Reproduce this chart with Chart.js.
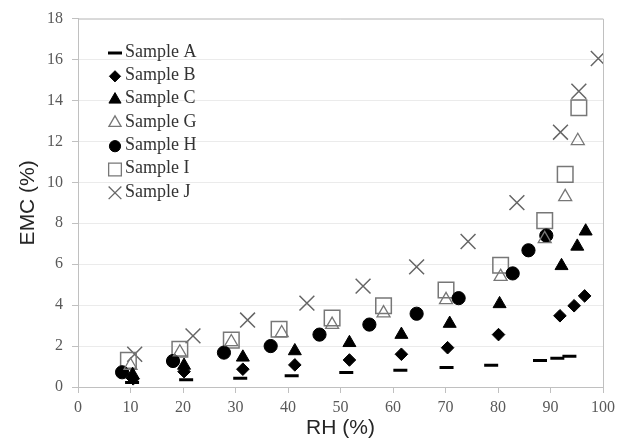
<!DOCTYPE html>
<html><head><meta charset="utf-8">
<script src="https://cdn.jsdelivr.net/npm/chart.js@4/dist/chart.umd.min.js"></script>
<style>html,body{margin:0;padding:0;background:#fff}#wrap{width:620px;height:442px;position:relative}</style>
</head><body><div id="wrap"><canvas id="c" width="620" height="442"></canvas></div>
<script>
// ---- data ----
const seriesNames = ['Sample A','Sample B','Sample C','Sample G','Sample H','Sample I','Sample J'];

const rhA  = [10.3, 20.6, 30.9, 40.7, 51.1, 61.4, 70.2, 78.7, 88.0, 91.3, 93.6];
const emcA = [0.22, 0.35, 0.43, 0.55, 0.71, 0.82, 0.95, 1.06, 1.30, 1.40, 1.50];

const rhB  = [10.5, 20.2, 31.4, 41.3, 51.7, 61.6, 70.4, 80.1, 91.8, 94.5, 96.5];
const emcB = [0.40, 0.75, 0.87, 1.08, 1.32, 1.60, 1.92, 2.56, 3.48, 3.97, 4.45];

const rhC  = [10.4, 20.2, 31.4, 41.3, 51.7, 61.6, 70.8, 80.3, 92.1, 95.1, 96.7];
const emcC = [0.60, 1.05, 1.45, 1.76, 2.16, 2.56, 3.10, 4.06, 5.92, 6.87, 7.61];

const rhG  = [10.0, 19.4, 29.2, 38.8, 48.4, 58.2, 70.1, 80.5, 88.9, 92.8, 95.2];
const emcG = [1.05, 1.70, 2.20, 2.64, 3.05, 3.61, 4.26, 5.39, 7.24, 9.29, 12.03];

const rhH  = [8.4, 18.1, 27.8, 36.7, 46.0, 55.5, 64.5, 72.5, 82.8, 85.8, 89.2];
const emcH = [0.72, 1.27, 1.68, 2.00, 2.56, 3.05, 3.58, 4.34, 5.55, 6.68, 7.40];

const rhI  = [9.6, 19.4, 29.2, 38.3, 48.4, 58.2, 70.1, 80.5, 88.9, 92.8, 95.4];
const emcI = [1.30, 1.84, 2.29, 2.82, 3.37, 3.97, 4.74, 5.95, 8.13, 10.39, 13.64];

const rhJ  = [10.8, 21.9, 32.3, 43.6, 54.3, 64.5, 74.3, 83.6, 91.9, 95.4, 99.1];
const emcJ = [1.60, 2.50, 3.27, 4.10, 4.93, 5.87, 7.11, 9.01, 12.45, 14.45, 16.05];

const xTicks = [0,10,20,30,40,50,60,70,80,90,100];
const yTicks = [0,2,4,6,8,10,12,14,16,18];
const xTitle = 'RH (%)';
const yTitle = 'EMC (%)';

// ---- build ----
function pts(xs, ys){ return xs.map((x,i)=>({x:x, y:ys[i]})); }
const styles = [
  {pointStyle:'line',     radius:7,   borderWidth:3,   bg:'#000', bc:'#000', lr:7,   lbw:3},
  {pointStyle:'rectRot',  radius:6.3, borderWidth:1,   bg:'#000', bc:'#000', lr:5.6, lbw:1},
  {pointStyle:'triangle', radius:7.5, borderWidth:1,   bg:'#000', bc:'#000', lr:7,   lbw:1},
  {pointStyle:'triangle', radius:7.5, borderWidth:1.3, bg:'rgba(0,0,0,0)', bc:'#777', lr:7, lbw:1.3},
  {pointStyle:'circle',   radius:6.6, borderWidth:1,   bg:'#000', bc:'#000', lr:5.6, lbw:1},
  {pointStyle:'rect',     radius:11,  borderWidth:1.5, bg:'rgba(0,0,0,0)', bc:'#777', lr:9, lbw:1.3},
  {pointStyle:'crossRot', radius:10.5,borderWidth:1.5, bg:'#666', bc:'#666', lr:9, lbw:1.3}
];
const xs = [rhA, rhB, rhC, rhG, rhH, rhI, rhJ];
const ys = [emcA, emcB, emcC, emcG, emcH, emcI, emcJ];

const datasets = seriesNames.map((n,i)=>({
  label:n,
  data:pts(xs[i], ys[i]),
  pointStyle:styles[i].pointStyle,
  pointRadius:styles[i].radius,
  pointHoverRadius:styles[i].radius,
  pointBorderWidth:styles[i].borderWidth,
  pointBackgroundColor:styles[i].bg,
  pointBorderColor:styles[i].bc,
  backgroundColor:styles[i].bg,
  borderColor:styles[i].bc,
  showLine:false
}));

function drawMarker(ctx, st, x, y, r, bw){
  ctx.save();
  ctx.fillStyle = st.bg; ctx.strokeStyle = st.bc; ctx.lineWidth = bw;
  if (Chart.helpers && Chart.helpers.drawPoint) {
    Chart.helpers.drawPoint(ctx, {pointStyle:st.pointStyle, rotation:0, radius:r, borderWidth:bw}, x, y);
  }
  ctx.restore();
}

const plotDecor = {
  id:'plotDecor',
  afterDraw(chart){
    const {ctx, chartArea:a} = chart;
    ctx.save();
    ctx.strokeStyle = '#c0c0c0'; ctx.lineWidth = 1;
    ctx.beginPath();
    ctx.moveTo(a.left, a.top + 0.5); ctx.lineTo(a.right + 0.5, a.top + 0.5);
    ctx.lineTo(a.right + 0.5, a.bottom);
    ctx.stroke();
    // legend inside plot
    const lx = 115, tx = 125, y0 = 51, dy = 23.3;
    ctx.font = '18px "Liberation Serif", "Times New Roman", serif';
    ctx.textBaseline = 'middle'; ctx.textAlign = 'left';
    seriesNames.forEach((n,i)=>{
      const y = y0 + i*dy;
      const st = styles[i];
      drawMarker(ctx, st, lx, y + 2, st.lr, st.lbw);
      ctx.fillStyle = '#333';
      ctx.fillText(n, tx, y + 1);
    });
    ctx.restore();
  }
};

new Chart(document.getElementById('c'), {
  type:'scatter',
  data:{datasets},
  plugins:[plotDecor],
  options:{
    responsive:false, animation:false, devicePixelRatio:1,
    layout:{padding:{left:0, right:15, top:16, bottom:0}},
    plugins:{legend:{display:false}, tooltip:{enabled:false}},
    scales:{
      x:{
        type:'linear', min:0, max:100,
        afterBuildTicks(s){ s.ticks = xTicks.map(v=>({value:v})); },
        afterFit(s){ s.height = 55; },
        ticks:{padding:5, color:'#595959', font:{family:'"Liberation Serif", serif', size:16}},
        grid:{drawOnChartArea:false, tickLength:6, color:'#c0c0c0', tickColor:'#c0c0c0'},
        border:{color:'#c0c0c0'},
        title:{display:true, text:xTitle, color:'#262626', font:{family:'"Liberation Sans", Arial, sans-serif', size:21}, padding:{top:0,bottom:1}}
      },
      y:{
        type:'linear', min:0, max:18,
        afterBuildTicks(s){ s.ticks = yTicks.map(v=>({value:v})); },
        afterFit(s){ s.width = 78; },
        ticks:{padding:9, color:'#595959', font:{family:'"Liberation Serif", serif', size:16}},
        grid:{color:'#ebebeb', tickLength:6, tickColor:'#c0c0c0'},
        border:{color:'#c0c0c0'},
        title:{display:true, text:yTitle, color:'#262626', font:{family:'"Liberation Sans", Arial, sans-serif', size:21}, padding:{top:16,bottom:0}}
      }
    }
  }
});
</script>
</body></html>
